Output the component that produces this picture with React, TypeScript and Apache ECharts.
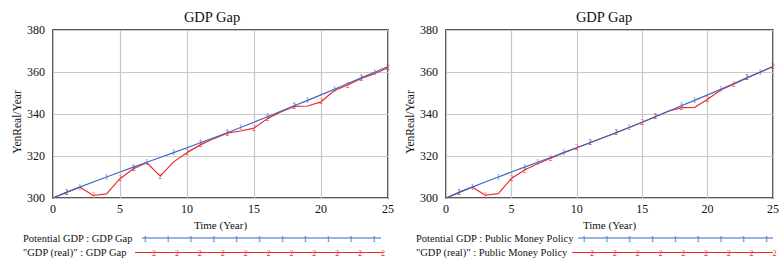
import React, { useEffect, useRef } from "react";
import * as echarts from "echarts";

const years = [0, 1, 2, 3, 4, 5, 6, 7, 8, 9, 10, 11, 12, 13, 14, 15, 16, 17, 18, 19, 20, 21, 22, 23, 24, 25];
const potentialGDP = [300, 302.7, 305.2, 307.6, 310.0, 312.4, 314.7, 317.0, 319.3, 321.6, 323.9, 326.3, 328.7, 331.1, 333.6, 336.1, 338.7, 341.3, 343.9, 346.5, 349.1, 351.8, 354.5, 357.2, 359.9, 362.6];
const gdpRealGap = [300, 302.7, 305.2, 301.2, 302.0, 309.2, 313.9, 316.8, 310.4, 317.2, 321.6, 325.3, 328.3, 330.9, 331.9, 333.3, 337.8, 341.0, 343.6, 343.8, 345.8, 351.2, 353.8, 356.9, 359.2, 362.0];
const gdpRealPolicy = [300, 302.7, 305.2, 301.3, 302.1, 309.3, 313.3, 316.3, 318.9, 321.6, 323.9, 326.3, 328.7, 331.1, 333.6, 336.1, 338.7, 341.3, 343.0, 343.1, 347.0, 351.4, 354.2, 357.2, 359.9, 362.6];
const markerIdx1 = [1, 2, 4, 6, 7, 9, 11, 13, 14, 16, 18, 19, 21, 23, 24];
const markerIdx2 = [1, 3, 5, 6, 8, 10, 11, 13, 15, 16, 18, 20, 22, 23, 25];
const titles = ["GDP Gap", "GDP Gap"];
const legendLeft = ["Potential GDP : GDP Gap", "\"GDP (real)\" : GDP Gap"];
const legendRight = ["Potential GDP : Public Money Policy", "\"GDP (real)\" : Public Money Policy"];
const yTicks = { min: 300, max: 380, interval: 20 };
const xTicks = { min: 0, max: 25, interval: 5 };

const BLUE = "#3a66c4";
const RED = "#f02a2a";
const FONT = "Liberation Serif";

export default function App() {
  const ref = useRef<HTMLDivElement>(null);
  useEffect(() => {
    if (!ref.current) return;
    const chart = echarts.init(ref.current, null, { renderer: "svg" });
    const pairs = (arr: number[]) => years.map((t, i) => [t, arr[i]]);
    const marks = (arr: number[], idx: number[]) => idx.map((i) => [years[i], arr[i]]);

    const grids = [
      { left: 53, top: 30, width: 335, height: 168 },
      { left: 446, top: 30, width: 334, height: 168 },
    ];
    const mkX = (gi: number) => ({
      type: "value",
      gridIndex: gi,
      min: xTicks.min,
      max: xTicks.max,
      interval: xTicks.interval,
      name: "Time (Year)",
      nameLocation: "middle",
      nameGap: 16,
      nameTextStyle: { fontFamily: FONT, fontSize: 11, color: "#111" },
      axisLine: { show: false },
      axisTick: { show: false },
      axisLabel: { fontFamily: FONT, fontSize: 12, color: "#111", margin: 5 },
      splitLine: { show: true, lineStyle: { color: "#c8c8c8", width: 1.2 } },
    });
    const mkY = (gi: number) => ({
      type: "value",
      gridIndex: gi,
      min: yTicks.min,
      max: yTicks.max,
      interval: yTicks.interval,
      name: "YenReal/Year",
      nameLocation: "middle",
      nameGap: 30,
      nameTextStyle: { fontFamily: FONT, fontSize: 11.5, color: "#111", padding: [0, 16, 0, 0] },
      axisLine: { show: false },
      axisTick: { show: false },
      axisLabel: { fontFamily: FONT, fontSize: 12, color: "#111", margin: 8 },
      splitLine: { show: true, lineStyle: { color: "#c8c8c8", width: 1.2 } },
    });

    const lineSeries = (gi: number, data: number[], color: string) => ({
      type: "line",
      xAxisIndex: gi,
      yAxisIndex: gi,
      data: pairs(data),
      showSymbol: false,
      lineStyle: { color, width: 1.2 },
      itemStyle: { color },
      silent: true,
    });
    const markSeries = (gi: number, data: number[], idx: number[], color: string, txt: string) => ({
      type: "scatter",
      xAxisIndex: gi,
      yAxisIndex: gi,
      data: marks(data, idx),
      symbol: "rect",
      symbolSize: 1,
      itemStyle: { color: "rgba(0,0,0,0)" },
      label: {
        show: true,
        position: "inside",
        formatter: txt,
        color,
        fontFamily: FONT,
        fontSize: 8,
        offset: [0, 2],
      },
      labelLayout: { hideOverlap: false },
      silent: true,
      z: 3,
    });

    const graphics: any[] = [];
    const legendBlock = (
      textX: number,
      labels: string[],
      blueLine: [number, number],
      redLine: [number, number],
      blueStart: number,
      redStart: number,
      count: number,
      step: number
    ) => {
      const ys = [238, 252.5];
      labels.forEach((lab, k) => {
        graphics.push({
          type: "text",
          x: textX,
          y: ys[k],
          style: { text: lab, fontFamily: FONT, fontSize: 10.5, fill: "#111", verticalAlign: "middle", align: "left" },
        });
      });
      graphics.push({
        type: "line",
        shape: { x1: blueLine[0], y1: ys[0], x2: blueLine[1], y2: ys[0] },
        style: { stroke: BLUE, lineWidth: 1.2 },
      });
      graphics.push({
        type: "line",
        shape: { x1: redLine[0], y1: ys[1], x2: redLine[1], y2: ys[1] },
        style: { stroke: RED, lineWidth: 1.2 },
      });
      for (let i = 0; i < count; i++) {
        graphics.push({
          type: "text",
          x: blueStart + i * step,
          y: ys[0] + 1,
          style: { text: "1", fontFamily: FONT, fontSize: 8, fill: BLUE, align: "center", verticalAlign: "middle" },
        });
        graphics.push({
          type: "text",
          x: redStart + i * step,
          y: ys[1] + 1,
          style: { text: "2", fontFamily: FONT, fontSize: 8, fill: RED, align: "center", verticalAlign: "middle" },
        });
      }
    };
    legendBlock(23, legendLeft, [142, 381], [135, 383], 145, 154, 11, 22.9);
    legendBlock(416, legendRight, [578, 773], [572, 773], 584, 592, 9, 22.8);

    chart.setOption({
      animation: false,
      backgroundColor: "#fff",
      title: [
        { text: titles[0], left: 207, top: 4, textAlign: "center", textStyle: { fontFamily: FONT, fontSize: 14.5, fontWeight: "normal", color: "#111" } },
        { text: titles[1], left: 599, top: 4, textAlign: "center", textStyle: { fontFamily: FONT, fontSize: 14.5, fontWeight: "normal", color: "#111" } },
      ],
      grid: grids.map((g) => ({ ...g, show: true, borderColor: "#222", borderWidth: 1.6, backgroundColor: "transparent" })),
      xAxis: [mkX(0), mkX(1)],
      yAxis: [mkY(0), mkY(1)],
      series: [
        lineSeries(0, gdpRealGap, RED),
        lineSeries(0, potentialGDP, BLUE),
        markSeries(0, gdpRealGap, markerIdx2, RED, "2"),
        markSeries(0, potentialGDP, markerIdx1, BLUE, "1"),
        lineSeries(1, gdpRealPolicy, RED),
        lineSeries(1, potentialGDP, BLUE),
        markSeries(1, gdpRealPolicy, markerIdx2, RED, "2"),
        markSeries(1, potentialGDP, markerIdx1, BLUE, "1"),
      ],
      graphic: graphics,
    });
    return () => chart.dispose();
  }, []);
  return (
    <div
      ref={ref}
      style={{ position: "fixed", left: 0, top: 0, width: 782, height: 262, background: "#fff" }}
    />
  );
}
